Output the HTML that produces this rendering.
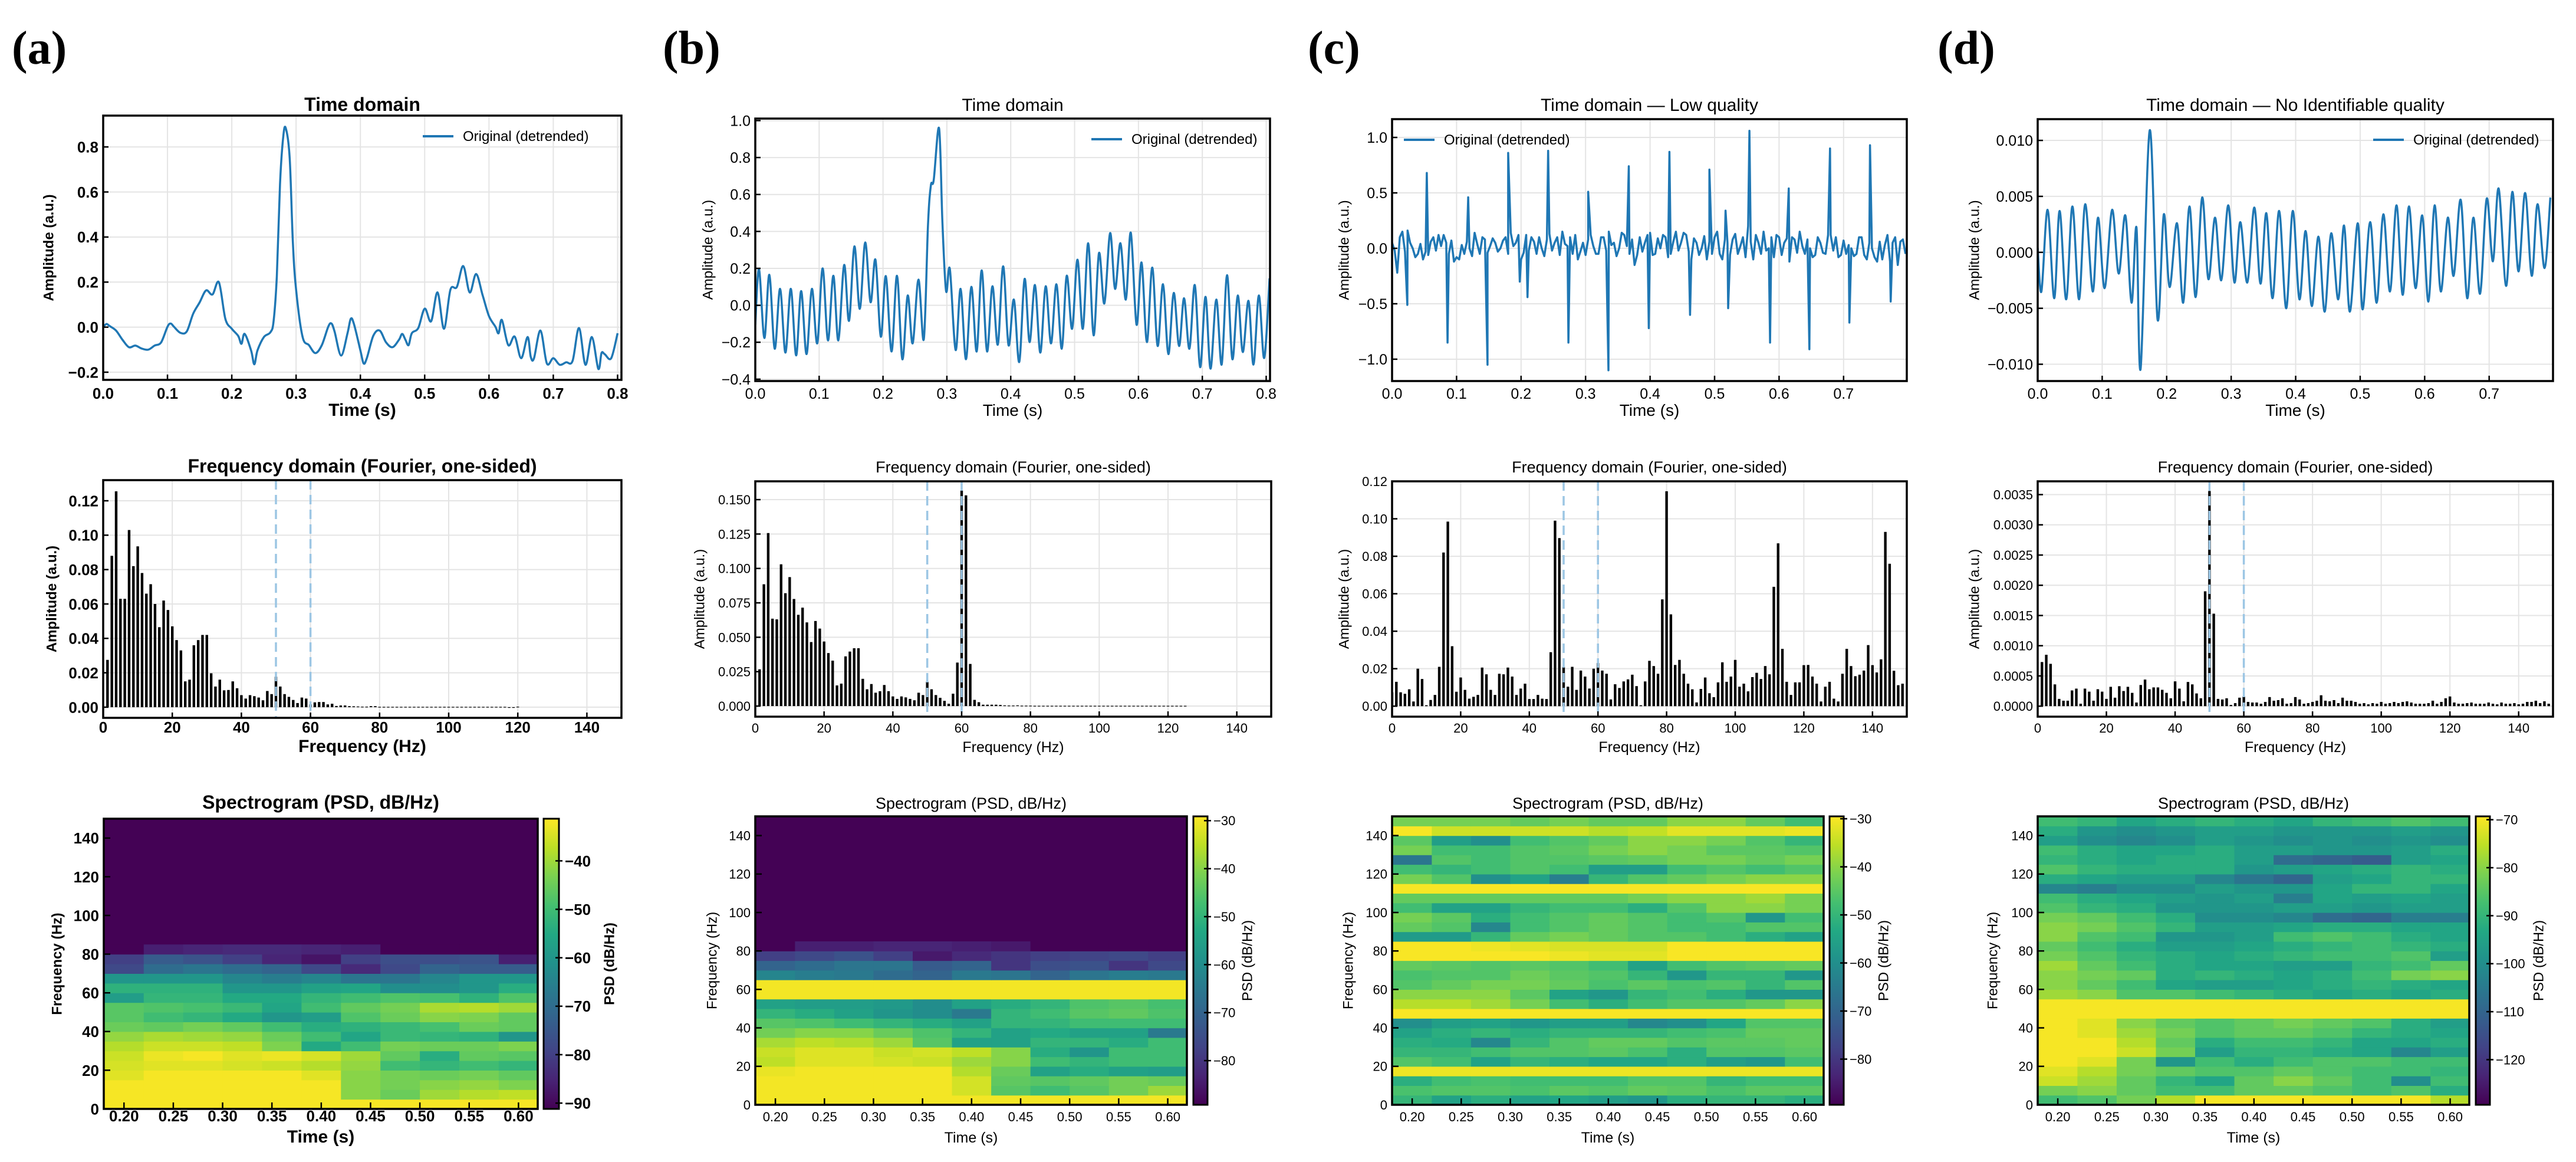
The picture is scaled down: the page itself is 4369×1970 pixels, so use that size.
<!DOCTYPE html>
<html><head><meta charset="utf-8">
<style>
html,body{margin:0;padding:0;background:#fff;}
svg{display:block;}
.nb{font-family:"Liberation Sans Narrow","Liberation Sans",sans-serif;font-weight:bold;}
.nr{font-family:"Liberation Sans Narrow","Liberation Sans",sans-serif;}
.rr{font-family:"Liberation Sans",sans-serif;}
.rb{font-family:"Liberation Sans",sans-serif;font-weight:bold;}
.pl{font-family:"Liberation Serif",serif;font-weight:bold;}
</style></head>
<body>
<svg id="fig" xmlns="http://www.w3.org/2000/svg" width="4369" height="1970" viewBox="0 0 4369 1970">
<rect x="0" y="0" width="4369" height="1970" fill="#fff"/>
<text x="20" y="108" font-size="80" class="pl">(a)</text>
<text x="1124" y="108" font-size="80" class="pl">(b)</text>
<text x="2218" y="108" font-size="80" class="pl">(c)</text>
<text x="3286" y="108" font-size="80" class="pl">(d)</text>
<defs id="defs"></defs>
</svg>
<script>
// ---------------- DATA ----------------
const aT=[0,0.005,0.01,0.02,0.03,0.04,0.05,0.06,0.07,0.08,0.09,0.1,0.105,0.11,0.12,0.13,0.14,0.15,0.16,0.17,0.18,0.19,0.2,0.21,0.215,0.22,0.23,0.235,0.24,0.25,0.26,0.265,0.27,0.275,0.28,0.284,0.29,0.295,0.3,0.31,0.32,0.33,0.34,0.35,0.355,0.36,0.37,0.38,0.385,0.39,0.4,0.405,0.41,0.42,0.43,0.44,0.45,0.46,0.465,0.47,0.475,0.48,0.49,0.5,0.51,0.52,0.53,0.54,0.55,0.56,0.57,0.58,0.59,0.6,0.61,0.615,0.62,0.63,0.64,0.65,0.66,0.665,0.67,0.68,0.69,0.7,0.71,0.72,0.73,0.74,0.75,0.76,0.77,0.775,0.78,0.79,0.8];
const aV=[0,0.014,0.005,-0.015,-0.056,-0.089,-0.082,-0.095,-0.1,-0.082,-0.068,0.002,0.016,0.002,-0.025,-0.019,0.06,0.11,0.163,0.145,0.199,0.037,-0.007,-0.039,-0.074,-0.03,-0.103,-0.165,-0.103,-0.044,-0.023,0.026,0.225,0.634,0.845,0.883,0.751,0.377,0.166,-0.042,-0.08,-0.115,-0.08,0.002,0.016,-0.021,-0.126,-0.027,0.037,0.014,-0.103,-0.161,-0.138,-0.039,-0.015,-0.068,-0.089,-0.056,-0.03,-0.056,-0.08,-0.027,-0.004,0.082,0.026,0.154,-0.007,0.166,0.178,0.271,0.154,0.236,0.143,0.049,0.002,-0.027,0.032,-0.08,-0.042,-0.138,-0.044,-0.132,-0.138,-0.015,-0.161,-0.138,-0.167,-0.156,-0.15,-0.004,-0.167,-0.044,-0.185,-0.115,-0.12,-0.138,-0.027];
const bT=[0,.0058,.0142,.022,.0304,.0388,.0472,.0556,.064,.0718,.0802,.0886,.097,.1054,.1138,.1222,.13,.1391,.1468,.1552,.1636,.1721,.1805,.1882,.1966,.2044,.2134,.2219,.2303,.2387,.2464,.2555,.2639,.2704,.2749,.2794,.2878,.293,.2988,.3047,.3137,.3215,.3299,.3383,.3467,.3545,.3629,.3713,.3797,.3881,.3965,.4049,.4133,.4217,.4295,.4379,.4463,.4547,.4631,.4715,.4799,.4877,.4961,.5045,.5129,.5213,.5298,.5382,.5466,.5556,.5634,.5718,.5802,.588,.597,.6048,.6132,.6216,.63,.6384,.6468,.6552,.6636,.6714,.6798,.6882,.6966,.705,.7128,.7219,.7303,.7387,.7471,.7555,.7633,.7723,.7801,.7885,.7969,.8053];
const bV=[-.105,.196,-.177,.165,-.235,.089,-.256,.089,-.271,.077,-.264,.089,-.206,.2,-.19,.16,-.19,.218,-.084,.319,-.019,.34,.017,.247,-.17,.158,-.25,.16,-.292,.053,-.206,.139,-.184,.434,.649,.678,.958,.448,.077,.196,-.242,.089,-.292,.1,-.25,.189,-.25,.103,-.213,.211,-.216,.031,-.307,.143,-.199,.11,-.256,.103,-.206,.114,-.235,.16,-.127,.247,-.127,.336,-.163,.283,.01,.391,.089,.336,.031,.393,-.105,.232,-.199,.204,-.22,.114,-.264,.067,-.22,.038,-.235,.11,-.335,.046,-.343,.031,-.321,.163,-.292,.053,-.253,.024,-.321,.053,-.285,.146];
const cBaseDt=0.008;
const cBase=[0.05,-0.22,0.15,0.16,0.0,-0.05,-0.1,-0.06,0.1,0.12,0.12,-0.05,-0.12,-0.1,-0.05,0.0,0.14,-0.05,0.08,0.02,0.05,0.0,0.1,0.14,0.05,-0.1,0.12,0.1,-0.05,0.0,0.08,-0.02,0.1,0.15,0.02,-0.05,-0.1,0.05,0.08,0.02,-0.05,0.1,0.15,0.05,0.0,0.12,-0.05,-0.15,0.1,0.05,0.14,-0.05,0.0,0.1,-0.05,0.15,0.05,0.12,-0.1,0.05,0.0,-0.1,-0.05,0.15,-0.1,0.05,0.08,-0.05,0.1,0.2,-0.1,0.05,0.15,0.0,-0.08,0.1,0.05,-0.12,0.08,0.15,-0.05,0.0,-0.06,0.05,-0.05,0.12,0.1,-0.06,-0.05,0.0,-0.05,0.1,-0.1,0.0,-0.12,-0.1,0.12,0.05,-0.15,0.08];
// mid-samples between base points (offset 0.004 s)
const cMid=[-0.02,0.1,-0.03,0.05,-0.08,0.04,-0.03,0.06,-0.02,0.02,0.05,0.07,-0.08,0.03,0.06,-0.07,0.04,0.1,-0.04,0.09,-0.03,0.07,-0.05,0.02,0.12,-0.04,-0.02,0.06,0.1,-0.07,0.13,0.05,-0.06,0.04,0.1,0.12,-0.03,-0.06,0.12,-0.05,0.1,-0.02,0.03,-0.07,0.14,0.02,0.08,-0.06,-0.03,0.12,-0.06,0.09,0.12,-0.08,0.06,-0.02,0.14,-0.03,0.09,-0.06,0.11,0.06,0.1,-0.05,0.08,-0.06,0.13,0.02,-0.08,0.06,0.12,-0.05,-0.02,0.1,0.12,-0.06,0.09,0.1,-0.04,0.02,0.08,-0.08,0.1,-0.04,0.12,-0.02,-0.08,0.07,0.03,-0.07,0.1,-0.06,0.05,-0.08,0.06,0.03,-0.12,0.1,0.06,-0.05];
const cSpikeT=[0.0237,0.0538,0.086,0.118,0.148,0.18,0.198,0.21,0.242,0.2734,0.304,0.3355,0.367,0.398,0.43,0.462,0.492,0.517,0.521,0.554,0.586,0.615,0.647,0.679,0.709,0.741,0.773];
const cSpikeV=[-0.51,0.68,-0.85,0.46,-1.05,0.86,-0.3,-0.44,0.88,-0.85,0.51,-1.1,0.74,-0.72,0.87,-0.6,0.71,0.34,-0.54,1.06,-0.85,0.54,-0.91,0.9,-0.67,0.93,-0.48];
const dT=[0,.0058,.0154,.0256,.034,.0442,.0538,.0641,.0737,.0853,.0936,.1038,.1154,.1256,.1359,.1455,.1532,.1596,.1737,.1859,.1955,.2045,.216,.2256,.2353,.2449,.2551,.2647,.275,.2846,.2955,.3051,.3141,.325,.3359,.3455,.3545,.3641,.3744,.3853,.3955,.4058,.4154,.425,.4353,.4449,.4551,.466,.475,.484,.4962,.5038,.5154,.5256,.5359,.5462,.5564,.566,.5756,.5859,.5962,.6058,.6154,.625,.6359,.6449,.6558,.666,.6756,.6859,.6962,.7058,.7147,.7263,.7359,.7455,.7558,.766,.775,.7859,.7949];
const dV=[0.0004,-0.0035,0.0038,-0.0041,0.0037,-0.0042,0.0041,-0.0042,0.0043,-0.0035,0.0031,-0.0032,0.0038,-0.0019,0.0033,-0.0045,0.0022,-0.0104,0.0109,-0.006,0.0034,-0.0031,0.0026,-0.0045,0.0041,-0.004,0.0049,-0.0024,0.0031,-0.0025,0.0042,-0.0027,0.0027,-0.0027,0.004,-0.0028,0.0035,-0.0041,0.0037,-0.005,0.0037,-0.0042,0.0019,-0.0048,0.0014,-0.0053,0.0017,-0.0042,0.0024,-0.0053,0.0026,-0.0051,0.0027,-0.0045,0.0034,-0.0035,0.0042,-0.0038,0.0041,-0.0032,0.0033,-0.0044,0.0042,-0.0035,0.0031,-0.0021,0.0047,-0.0041,0.0031,-0.0037,0.0048,-0.0008,0.0057,-0.003,0.0054,-0.0017,0.0053,-0.0021,0.0043,-0.0014,0.0049];
// frequency spectra, bin k at k*fStep Hz
const fStep=1.25;
const aSpec=[0,.0275,.088,.1255,.063,.063,.103,.082,.0935,.078,.066,.0715,.060,.0465,.062,.0565,.047,.039,.033,.015,.016,.036,.039,.042,.042,.0197,.012,.016,.0098,.010,.015,.011,.007,.005,.007,.0064,.0056,.004,.0094,.0076,.0177,.012,.0076,.006,.0042,.0024,.0056,.005,.0016,.0028,.003,.003,.0016,.002,.0007,.001,.001,.0006,.0005,.0004,.0003,.0003,.0006,.0006,.0002,.0002,.0002,.0002,.0002,.0002,.0002,.0002,.0002,.0002,.0002,.0002,.0002,.0002,.0002,.0002,.0002,.0002,.0002,.0002,.0002,.0002,.0002,.0002,.0002,.0002,.0002,.0002,.0002,.0002,0,0,.0003];
const bSpec=[0,.0267,.0885,.1257,.0635,.063,.103,.082,.0937,.0778,.0663,.0715,.0608,.0465,.0618,.0563,.0469,.0385,.033,.015,.0163,.0361,.0396,.042,.042,.0198,.0122,.016,.0097,.0108,.0153,.0108,.007,.0052,.007,.0063,.0052,.0042,.0097,.008,.0177,.0122,.008,.006,.0038,.0017,.009,.0316,.1566,.1531,.0306,.0045,.0028,.001,.001,.001,.001,.0008,.0005,.0004,.0004,.0005,.0003,.0003,.0003,.0002,.0002,.0002,.0002,.0002,.0002,.0002,.0002,.0002,.0002,.0002,.0002,.0002,.0002,.0002,.0002,.0002,.0002,.0002,.0002,.0002,.0002,.0002,.0002,.0002,.0002,.0002,.0002,.0002,.0002,.0002,.0002,.0002,.0002,.0002,.0002];
const cSpec=[.0074,.013,.0074,.0066,.009,.0025,.020,.0145,.0005,.0033,.006,.021,.082,.0985,.032,.0077,.0153,.0087,.004,.005,.006,.0206,.017,.0087,.006,.0173,.017,.0206,.0158,.006,.0094,.012,.0038,.0038,.006,.004,.0038,.0288,.099,.0897,.021,.0104,.021,.0087,.019,.0158,.0094,.02,.023,.019,.0173,.0036,.0117,.0097,.0132,.0143,.0168,.0107,.0005,.0132,.0242,.0214,.0173,.057,.1147,.049,.022,.0247,.0173,.012,.009,.002,.0092,.0153,.0069,.0048,.0127,.0234,.013,.0158,.0247,.0104,.012,.0079,.0155,.0178,.0145,.0214,.017,.0637,.0869,.0306,.013,.006,.0127,.0127,.0219,.022,.0158,.012,.0025,.0104,.013,.004,.0025,.0173,.0306,.0214,.016,.0168,.019,.0326,.0219,.018,.025,.093,.076,.0189,.0112,.012];
const dSpec=[0,.00073,.00085,.0007,.00036,.00012,.00009,.00009,.00026,.00029,.00004,.00029,.00024,.00009,.00028,.00024,.00012,.00032,.00014,.00033,.00025,.00032,.00022,.00006,.00035,.00044,.00028,.00031,.00031,.00027,.00022,.00013,.00041,.00029,.00008,.0004,.00036,.00021,.00013,.0019,.00356,.00153,.00012,.00011,.00013,.00002,.00005,.00014,.00016,.00007,.00006,.00006,.00004,.00007,.00015,.00009,.0001,.00013,.00004,.00005,.00015,.00011,.00004,.00005,.00007,.00009,.00018,.00009,.00008,.0001,.00005,.00014,.00009,.00009,.00007,.00004,.00005,.00003,.00005,.00004,.00007,.00004,.00005,.00007,.00005,.00007,.00008,.00006,.00004,.00004,.00004,.00005,.00009,.00004,.00007,.00013,.00016,.00006,.00004,.00004,.00005,.00006,.00004,.00004,.00004,.00006,.00004,.00003,.00006,.00004,.00004,.00005,.00003,.00004,.00007,.00007,.00009,.00005,.00008,.00004];
const markerFreqs=[50,60];
// spectrogram grids: rows of 5 Hz from 0 Hz upward, 11 time columns (0.18-0.62 s, 0.04 s each)
const specT0=0.18, specDt=0.04, specDf=5;
const aFloor=-91;
const aGrid=[
[-32,-32,-32,-32,-32,-32,-32,-32,-32,-32,-32],
[-32,-32,-32,-32,-32,-32,-42,-45,-40,-38,-37],
[-32,-32,-32,-32,-32,-32,-42,-44,-42,-41,-43],
[-34,-32,-32,-32,-32,-34,-42,-44,-45,-44,-46],
[-35,-34,-34,-35,-36,-38,-41,-50,-52,-50,-52],
[-36,-33,-32,-34,-33,-35,-40,-46,-54,-46,-47],
[-38,-36,-36,-37,-43,-55,-50,-44,-45,-45,-43],
[-41,-39,-40,-41,-45,-50,-56,-51,-52,-53,-60],
[-45,-46,-44,-46,-50,-54,-53,-51,-49,-45,-46],
[-47,-50,-52,-55,-60,-58,-48,-45,-42,-43,-46],
[-47,-48,-49,-51,-56,-50,-46,-44,-39,-38,-40],
[-58,-52,-52,-55,-55,-52,-50,-48,-49,-53,-48],
[-53,-53,-53,-60,-60,-57,-56,-62,-62,-60,-54],
[-60,-60,-60,-64,-66,-64,-68,-68,-64,-60,-60],
[-78,-70,-68,-70,-72,-78,-84,-78,-72,-74,-74],
[-80,-74,-76,-80,-85,-88,-80,-77,-77,-76,-86],
[-91,-86,-85,-84,-84,-85,-86,-91,-91,-91,-91]];
const bFloor=-89;
const bGrid=[
[-30,-30,-30,-30,-30,-30,-30,-30,-30,-30,-30],
[-30,-30,-30,-30,-30,-33,-45,-48,-45,-42,-38],
[-30,-30,-30,-30,-30,-33,-44,-45,-44,-42,-43],
[-31,-30,-30,-30,-30,-36,-43,-55,-52,-55,-56],
[-35,-32,-32,-33,-34,-38,-40,-48,-50,-48,-48],
[-34,-32,-32,-34,-33,-35,-40,-52,-58,-48,-48],
[-37,-35,-36,-38,-45,-55,-55,-50,-50,-52,-48],
[-42,-40,-40,-43,-46,-50,-55,-53,-55,-55,-65],
[-45,-46,-48,-50,-52,-55,-50,-50,-48,-48,-48],
[-50,-52,-55,-58,-60,-65,-50,-48,-45,-44,-46],
[-55,-56,-56,-57,-60,-55,-52,-50,-46,-45,-47],
[-30,-30,-30,-30,-30,-30,-30,-30,-30,-30,-30],
[-30,-30,-30,-30,-30,-30,-30,-30,-30,-30,-30],
[-62,-64,-65,-68,-70,-65,-66,-70,-66,-64,-65],
[-70,-68,-66,-66,-72,-70,-80,-75,-74,-80,-76],
[-78,-76,-74,-78,-85,-82,-80,-78,-77,-76,-78],
[-89,-84,-84,-83,-83,-84,-85,-89,-89,-89,-89]];
const cFloor=-45;
const cGrid=[
[-50,-55,-52,-55,-54,-56,-58,-52,-50,-50,-52],
[-47,-46,-46,-47,-45,-46,-44,-45,-47,-45,-45],
[-52,-48,-47,-48,-48,-48,-46,-46,-50,-48,-48],
[-31,-31,-31,-31,-31,-31,-31,-31,-31,-31,-31],
[-46,-48,-55,-50,-52,-54,-54,-52,-56,-58,-48],
[-50,-50,-48,-46,-46,-45,-47,-52,-46,-46,-45],
[-52,-53,-62,-50,-46,-44,-44,-46,-45,-45,-44],
[-55,-52,-50,-52,-50,-50,-50,-48,-47,-44,-44],
[-60,-56,-55,-58,-56,-56,-62,-60,-54,-46,-46],
[-30,-30,-30,-30,-30,-30,-30,-30,-30,-30,-30],
[-36,-36,-38,-42,-48,-52,-48,-46,-46,-44,-40],
[-40,-40,-40,-45,-55,-58,-50,-48,-52,-58,-58],
[-46,-44,-42,-42,-44,-47,-45,-47,-46,-50,-46],
[-47,-46,-46,-43,-45,-46,-50,-58,-50,-50,-58],
[-44,-45,-46,-45,-46,-48,-55,-48,-46,-45,-44],
[-30,-30,-30,-30,-31,-32,-32,-30,-30,-30,-30],
[-30,-30,-31,-32,-33,-33,-33,-30,-30,-30,-30],
[-57,-57,-50,-44,-42,-44,-46,-46,-48,-52,-55],
[-44,-46,-62,-48,-46,-44,-46,-48,-48,-46,-46],
[-42,-45,-52,-48,-46,-44,-46,-48,-46,-58,-48],
[-48,-55,-55,-50,-48,-48,-52,-46,-40,-40,-42],
[-44,-44,-44,-44,-44,-44,-42,-40,-40,-38,-42],
[-30,-30,-30,-30,-30,-30,-30,-30,-30,-30,-30],
[-42,-46,-60,-55,-64,-50,-46,-44,-42,-40,-40],
[-48,-50,-48,-46,-48,-56,-56,-48,-46,-48,-46],
[-66,-46,-48,-46,-46,-45,-44,-42,-42,-44,-42],
[-42,-48,-48,-46,-45,-42,-40,-42,-45,-45,-46],
[-45,-56,-60,-48,-46,-44,-40,-40,-42,-46,-50],
[-30,-34,-34,-34,-34,-36,-35,-32,-32,-32,-31],
[-42,-42,-42,-44,-42,-44,-44,-40,-40,-44,-48]];
const dFloor=-90;
const dGrid=[
[-88,-86,-82,-76,-70,-70,-70,-70,-70,-70,-76],
[-82,-80,-84,-88,-88,-84,-84,-86,-88,-86,-92],
[-74,-78,-84,-90,-94,-84,-80,-84,-88,-100,-88],
[-72,-76,-82,-84,-86,-86,-84,-86,-88,-88,-90],
[-70,-72,-82,-98,-88,-92,-88,-86,-86,-88,-88],
[-70,-70,-74,-82,-96,-90,-90,-92,-94,-102,-96],
[-70,-70,-76,-84,-92,-88,-88,-90,-94,-94,-92],
[-70,-72,-78,-82,-86,-84,-84,-86,-90,-92,-94],
[-70,-72,-80,-84,-86,-84,-82,-84,-86,-92,-96],
[-70,-70,-70,-70,-70,-70,-70,-70,-70,-70,-70],
[-70,-70,-70,-70,-70,-70,-70,-70,-70,-70,-70],
[-78,-80,-86,-86,-88,-90,-92,-94,-92,-94,-92],
[-80,-84,-88,-94,-96,-96,-94,-92,-90,-92,-94],
[-80,-82,-84,-92,-90,-92,-94,-92,-88,-82,-80],
[-78,-84,-88,-92,-94,-94,-96,-96,-90,-88,-84],
[-82,-86,-90,-92,-94,-92,-90,-88,-88,-86,-96],
[-84,-88,-92,-96,-96,-94,-92,-90,-88,-90,-92],
[-80,-86,-88,-98,-98,-96,-88,-86,-88,-92,-94],
[-80,-82,-86,-90,-96,-96,-94,-92,-92,-94,-94],
[-82,-84,-88,-92,-100,-100,-102,-108,-110,-104,-104],
[-86,-90,-92,-98,-98,-98,-96,-96,-98,-96,-96],
[-88,-92,-94,-96,-98,-96,-104,-94,-96,-94,-96],
[-102,-104,-100,-100,-96,-98,-98,-94,-90,-90,-94],
[-92,-94,-96,-96,-102,-106,-110,-96,-94,-90,-90],
[-86,-90,-92,-92,-92,-98,-96,-94,-92,-90,-92],
[-90,-92,-94,-92,-92,-96,-108,-110,-112,-96,-94],
[-88,-92,-94,-94,-92,-96,-96,-98,-98,-96,-92],
[-96,-100,-102,-100,-96,-98,-100,-98,-100,-98,-100],
[-92,-98,-100,-98,-96,-96,-98,-98,-98,-96,-98],
[-88,-90,-94,-92,-90,-92,-94,-90,-88,-86,-88]];

// ---------------- RENDER ----------------
const NS="http://www.w3.org/2000/svg";
const root=document.getElementById('fig');
const defs=document.getElementById('defs');
function mk(tag,attrs,parent){const e=document.createElementNS(NS,tag);for(const k in attrs)e.setAttribute(k,attrs[k]);(parent||root).appendChild(e);return e;}
function fmt(v,n){const s=Math.abs(v).toFixed(n);return (v<-1e-12?'\u2212':'')+s;}
const VIR=['#440154','#482475','#414487','#355f8d','#2a788e','#21918c','#22a884','#44bf70','#7ad151','#bddf26','#fde725'];
function hex(h){return [parseInt(h.substr(1,2),16),parseInt(h.substr(3,2),16),parseInt(h.substr(5,2),16)];}
function viridis(t){t=Math.max(0,Math.min(1,t));const p=t*10,i=Math.min(9,Math.floor(p)),f=p-i;const a=hex(VIR[i]),b=hex(VIR[i+1]);return 'rgb('+[0,1,2].map(j=>Math.round(a[j]+(b[j]-a[j])*f)).join(',')+')';}
function smoothPath(pts){if(pts.length<2)return '';let d='M'+pts[0][0].toFixed(1)+','+pts[0][1].toFixed(1);
 for(let i=0;i<pts.length-1;i++){const p0=pts[Math.max(0,i-1)],p1=pts[i],p2=pts[i+1],p3=pts[Math.min(pts.length-1,i+2)];
 const c1=[p1[0]+(p2[0]-p0[0])/6,p1[1]+(p2[1]-p0[1])/6],c2=[p2[0]-(p3[0]-p1[0])/6,p2[1]-(p3[1]-p1[1])/6];
 d+='C'+c1[0].toFixed(1)+','+c1[1].toFixed(1)+' '+c2[0].toFixed(1)+','+c2[1].toFixed(1)+' '+p2[0].toFixed(1)+','+p2[1].toFixed(1);}return d;}
function linePath(pts){return pts.map((p,i)=>(i?'L':'M')+p[0].toFixed(1)+','+p[1].toFixed(1)).join('');}
let clipId=0;
function makeAxes(o){
 const g=mk('g',{});
 
 
 o.g=g;
 o.sx=v=>o.L+(v-o.xlim[0])/(o.xlim[1]-o.xlim[0])*(o.R-o.L);
 o.sy=v=>o.B-(v-o.ylim[0])/(o.ylim[1]-o.ylim[0])*(o.B-o.T);
 const cid='clip'+(clipId++);
 const cp=mk('clipPath',{id:cid},defs);
 mk('rect',{x:o.L,y:o.T,width:o.R-o.L,height:o.B-o.T},cp);
 if(o.grid){
  const gg=mk('g',{stroke:'#e4e4e4','stroke-width':2},g);
  
  
  o.xt.forEach(v=>mk('line',{x1:o.sx(v),x2:o.sx(v),y1:o.T,y2:o.B},gg));
  o.yt.forEach(v=>mk('line',{x1:o.L,x2:o.R,y1:o.sy(v),y2:o.sy(v)},gg));
 }
 o.plot=mk('g',{'clip-path':'url(#'+cid+')'},g);
 
 
 return o;
}
function finishAxes(o){
 const g=o.g;
 const fr=mk('rect',{x:o.L,y:o.T,width:o.R-o.L,height:o.B-o.T,fill:'none',stroke:'#000','stroke-width':3.5},g);
 
 
 const tk=mk('g',{stroke:'#000','stroke-width':2.5},g);
 
 
 o.xt.forEach(v=>mk('line',{x1:o.sx(v),x2:o.sx(v),y1:o.B,y2:o.B-o.tl},tk));
 o.yt.forEach(v=>mk('line',{x1:o.L,x2:o.L+o.tl,y1:o.sy(v),y2:o.sy(v)},tk));
 o.xt.forEach(v=>{const t=mk('text',{x:o.sx(v),y:o.xtY,'text-anchor':'middle','font-size':o.tf,class:o.tc},g);t.textContent=fmt(v,o.xd);
  
  });
 o.yt.forEach(v=>{const t=mk('text',{x:o.L-8,y:o.sy(v)+o.tf*0.36,'text-anchor':'end','font-size':o.tf,class:o.tc},g);t.textContent=fmt(v,o.yd);
  
  });
 const ti=mk('text',{x:(o.L+o.R)/2,y:o.titleY,'text-anchor':'middle','font-size':o.titf,class:o.titc},g);ti.textContent=o.title;
 
 
 const xl=mk('text',{x:(o.L+o.R)/2,y:o.xlY,'text-anchor':'middle','font-size':o.lf,class:o.lc},g);xl.textContent=o.xl;
 
 
 const cy=(o.T+o.B)/2;
 const yl=mk('text',{x:o.ylX,y:cy,'text-anchor':'middle','dominant-baseline':'middle','font-size':o.ylf,class:o.ylc,transform:'rotate(-90 '+o.ylX+' '+cy+')'},g);yl.textContent=o.yl;
 
 
}
function range(a,b,s){const r=[];for(let v=a;v<=b+s*1e-6;v+=s)r.push(Math.round(v/s)*s);return r;}
const STY_A={tc:'nb',tf:26,titc:'nb',titf:32,lc:'nb',lf:30,ylc:'rb',ylf:24};
const STY_N={tc:'nr',tf:25,titc:'nr',titf:30,lc:'nr',lf:28,ylc:'rr',ylf:24};
const STY_R={tc:'rr',tf:22,titc:'rr',titf:27,lc:'rr',lf:25,ylc:'rr',ylf:24};

// ---- Row 1: time domain ----
function timePanel(geo,sty,series,smooth,legendX){
 const o=makeAxes(Object.assign({grid:true,tl:9,xd:1,titleY:188,xtY:676,xlY:705,xl:'Time (s)',yl:'Amplitude (a.u.)'},sty,geo));
 const pts=[];const n=Math.min(series.t.length,series.v.length);
 for(let i=0;i<n;i++)pts.push([o.sx(series.t[i]),o.sy(series.v[i])]);
 const p=mk('path',{d:smooth?smoothPath(pts):linePath(pts),fill:'none',stroke:'#1f77b4','stroke-width':3.5,'stroke-linejoin':'round'},o.plot);
 
 
 const lg=mk('g',{},o.g);
 
 
 const ly=geo.T+35;
 mk('line',{x1:legendX,x2:legendX+52,y1:ly,y2:ly,stroke:'#1f77b4','stroke-width':4},lg);
 const lt=mk('text',{x:legendX+68,y:ly+8,'font-size':24,class:'nr'},lg);lt.textContent='Original (detrended)';
 
 
 finishAxes(o);
}
timePanel({name:'a-time-domain',L:175,R:1054,T:196,B:644,xlim:[0,0.806],ylim:[-0.234,0.939],xt:range(0,0.8,0.1),yt:range(-0.2,0.8,0.2),yd:1,title:'Time domain',ylX:84},STY_A,{t:aT,v:aV},true,717);
timePanel({name:'b-time-domain',L:1281,R:2154,T:201,B:646,xlim:[0,0.806],ylim:[-0.41,1.011],xt:range(0,0.8,0.1),yt:range(-0.4,1.0,0.2),yd:1,title:'Time domain',ylX:1202},STY_N,{t:bT,v:bV},true,1851);
(function(){
 const ct=[],cv=[];
 cBase.forEach((v,i)=>{ct.push(i*cBaseDt);cv.push(v);});
 cMid.forEach((v,i)=>{ct.push(i*cBaseDt+cBaseDt/2);cv.push(v);});
 cSpikeT.forEach((t,i)=>{ct.push(t);cv.push(cSpikeV[i]);});
 const idx=ct.map((t,i)=>i).sort((a,b)=>ct[a]-ct[b]);
 timePanel({name:'c-time-domain',L:2361,R:3234,T:202,B:646,xlim:[0,0.798],ylim:[-1.197,1.165],xt:range(0,0.7,0.1),yt:range(-1,1,0.5),yd:1,title:'Time domain \u2014 Low quality',ylX:2281},STY_N,{t:idx.map(i=>ct[i]),v:idx.map(i=>cv[i])},false,2381);
})();
timePanel({name:'d-time-domain',L:3456,R:4330,T:202,B:646,xlim:[0,0.799],ylim:[-0.0115,0.0119],xt:range(0,0.7,0.1),yt:range(-0.01,0.01,0.005),yd:3,title:'Time domain \u2014 No Identifiable quality',ylX:3350},STY_N,{t:dT,v:dV},true,4025);

// ---- Row 2: frequency domain ----
function freqPanel(geo,sty,spec){
 const o=makeAxes(Object.assign({grid:true,tl:9,xd:0,titleY:801,xtY:1242,xlY:1275,xlim:[0,150],xt:range(0,140,20),xl:'Frequency (Hz)',yl:'Amplitude (a.u.)',title:'Frequency domain (Fourier, one-sided)'},sty,geo));
 const w=(o.R-o.L)/150*fStep*0.6;
 spec.forEach((v,k)=>{
  const y0=o.sy(0),y1=o.sy(v);
  const r=mk('rect',{x:o.sx(k*fStep)-w/2,y:Math.min(y0,y1),width:w,height:Math.max(1.2,Math.abs(y0-y1)),fill:'#000'},o.plot);
  
  
 });
 markerFreqs.forEach(f=>{
  const l=mk('line',{x1:o.sx(f),x2:o.sx(f),y1:o.T,y2:o.B,stroke:'#9cc6e4','stroke-width':3.5,'stroke-dasharray':'16 9'},o.plot);
  
  
 });
 finishAxes(o);
}
freqPanel({name:'a-frequency-domain',L:175,R:1054,T:814,B:1217,ylim:[-0.0062,0.132],yt:range(0,0.12,0.02),yd:2,ylX:89},STY_A,aSpec);
freqPanel({name:'b-frequency-domain',L:1281,R:2156,T:816,B:1215,ylim:[-0.0077,0.1633],yt:range(0,0.15,0.025),yd:3,ylX:1188},STY_R,bSpec);
freqPanel({name:'c-frequency-domain',L:2361,R:3234,T:816,B:1215,ylim:[-0.0056,0.12],yt:range(0,0.12,0.02),yd:2,ylX:2281},STY_R,cSpec);
freqPanel({name:'d-frequency-domain',L:3456,R:4330,T:816,B:1215,ylim:[-0.000174,0.00372],yt:range(0,0.0035,0.0005),yd:4,ylX:3350},STY_R,dSpec);

// ---- Row 3: spectrograms ----
let gradN=0;
function specPanel(geo,sty,grid,floor,vmin,vmax,cticks,cbL,cbR,cbLabX){
 const o=makeAxes(Object.assign({grid:false,tl:11,xd:2,yd:0,titleY:1371,xtY:1901,xlY:1937,xlim:[0.1795,0.6195],ylim:[0,150],xt:range(0.2,0.6,0.05),yt:range(0,140,20),xl:'Time (s)',yl:'Frequency (Hz)',title:'Spectrogram (PSD, dB/Hz)'},sty,geo));
 const col=v=>viridis((v-vmin)/(vmax-vmin));
 const bg=mk('rect',{x:o.L,y:o.T,width:o.R-o.L,height:o.B-o.T,fill:col(floor)},o.plot);
 
 
 grid.forEach((row,ri)=>row.forEach((v,ci)=>{
  const x0=o.sx(specT0+ci*specDt),x1=o.sx(specT0+(ci+1)*specDt),y0=o.sy(ri*specDf),y1=o.sy((ri+1)*specDf);
  const r=mk('rect',{x:x0,y:y1,width:x1-x0+0.6,height:y0-y1+0.6,fill:col(v)},o.plot);
  
  
 }));
 finishAxes(o);
 const gid='vir'+(gradN++);
 const lg=mk('linearGradient',{id:gid,x1:0,y1:1,x2:0,y2:0},defs);
 VIR.forEach((c,i)=>mk('stop',{offset:(i/10).toFixed(2),'stop-color':c},lg));
 const cb=mk('g',{},o.g);
 
 
 mk('rect',{x:cbL,y:o.T,width:cbR-cbL,height:o.B-o.T,fill:'url(#'+gid+')',stroke:'#000','stroke-width':3},cb);
 const cy=v=>o.B-(v-vmin)/(vmax-vmin)*(o.B-o.T);
 cticks.forEach(v=>{
  mk('line',{x1:cbR-6,x2:cbR+6,y1:cy(v),y2:cy(v),stroke:'#000','stroke-width':2.5},cb);
  const t=mk('text',{x:cbR+10,y:cy(v)+sty.tf*0.36,'font-size':sty.tf,class:sty.tc},cb);t.textContent=fmt(v,0);
  
  
 });
 const c2=(o.T+o.B)/2;
 const lab=mk('text',{x:cbLabX,y:c2,'text-anchor':'middle','dominant-baseline':'middle','font-size':sty.ylf,class:sty.ylc,transform:'rotate(-90 '+cbLabX+' '+c2+')'},cb);lab.textContent='PSD (dB/Hz)';
 
 
}
specPanel({name:'a-spectrogram',L:176,R:912,T:1388,B:1880,ylX:98},STY_A,aGrid,aFloor,-91.2,-31.3,range(-90,-40,10),922,948,1035);
specPanel({name:'b-spectrogram',L:1281,R:2013,T:1384,B:1873,ylX:1209},STY_R,bGrid,bFloor,-89.2,-29.1,range(-80,-30,10),2024,2048,2117);
specPanel({name:'c-spectrogram',L:2361,R:3093,T:1384,B:1873,ylX:2288},STY_R,cGrid,cFloor,-89.5,-29.5,range(-80,-30,10),3103,3127,3196);
specPanel({name:'d-spectrogram',L:3456,R:4188,T:1384,B:1873,ylX:3381},STY_R,dGrid,dFloor,-129.4,-69.3,range(-120,-70,10),4199,4223,4307);
</script>
</body></html>
